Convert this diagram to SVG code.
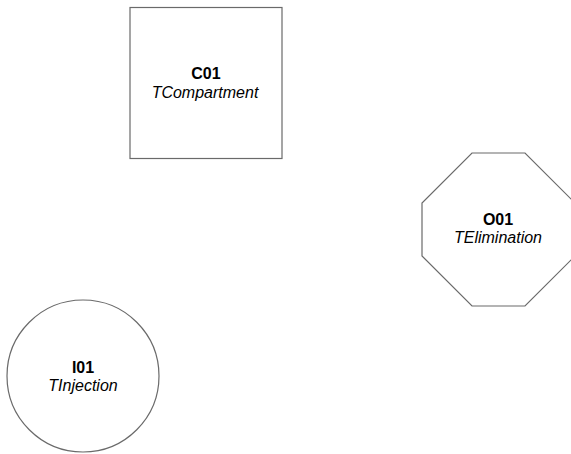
<svg xmlns="http://www.w3.org/2000/svg" width="571" height="454" viewBox="0 0 571 454">
<style>
.shape{fill:#fff;stroke:#6a6a6a;stroke-width:1.2}
.id{font-family:"Liberation Sans",Arial,sans-serif;font-size:16px;font-weight:bold;text-anchor:middle;fill:#000}
.type{font-family:"Liberation Sans",Arial,sans-serif;font-size:16px;font-style:italic;text-anchor:middle;fill:#000}
</style>
<rect width="571" height="454" fill="#fff"/>
<g id="connectors"/>
<g id="C01">
<rect class="shape" x="130" y="7.5" width="152" height="151"/>
<text class="id" x="206" y="79">C01</text>
<text class="type" x="205" y="97.5">TCompartment</text>
</g>
<g id="O01">
<polygon class="shape" points="472,153 525,153 575,203 575,256 525,306 472,306 422,256 422,203"/>
<text class="id" x="498" y="225">O01</text>
<text class="type" x="498" y="243">TElimination</text>
</g>
<g id="I01">
<circle class="shape" cx="83" cy="376" r="76"/>
<text class="id" x="83" y="372.5">I01</text>
<text class="type" x="83" y="390.5">TInjection</text>
</g>
</svg>
